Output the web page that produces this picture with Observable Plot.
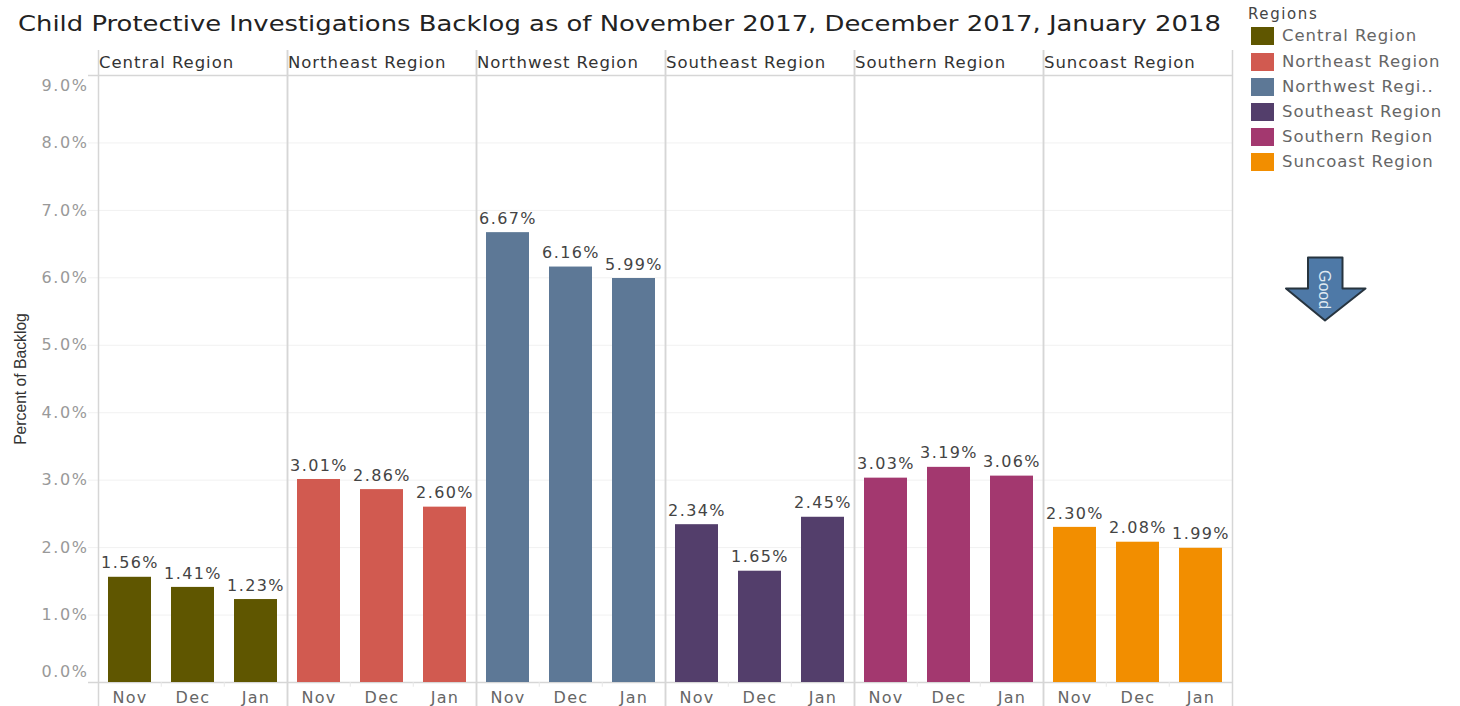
<!DOCTYPE html>
<html><head><meta charset="utf-8">
<script src="https://cdn.jsdelivr.net/npm/d3@7"></script>
<script src="https://cdn.jsdelivr.net/npm/@observablehq/plot@0.6"></script>
<style>
html,body{margin:0;padding:0;background:#fff;overflow:hidden}
body{width:1460px;height:706px;position:relative;font-family:"DejaVu Sans",sans-serif}
#title{position:absolute;left:18px;top:9px;font-size:21.4px;line-height:30px;color:#222;white-space:nowrap;font-weight:400;transform:scaleX(1.208);transform-origin:left center}
#chart{position:absolute;left:0;top:50px}
#legend{position:absolute;left:1248px;top:4px;font-size:16.5px;letter-spacing:.95px;color:#666}
#legend .h{color:#444;font-size:15px;letter-spacing:1.6px;height:20px;line-height:20px}
#legend .r{position:absolute;left:3px;white-space:nowrap;line-height:18px;height:18px}
#legend .s{display:inline-block;width:23px;height:18px;margin-right:8px;vertical-align:top}
#arrow{position:absolute;left:1280px;top:250px}
g[aria-label="fx-axis tick label"] text, g[aria-label="fx-axis tick label"]{letter-spacing:.95px}
g[aria-label="y-axis tick label"]{letter-spacing:1.6px}
g[aria-label="x-axis tick label"]{letter-spacing:1.3px}
g[aria-label="text"]{letter-spacing:1.4px}
</style></head><body>
<div id="title"></div><div id="chart"></div><div id="legend"></div><div id="arrow"></div>
<script>
const titleText = "Child Protective Investigations Backlog as of November 2017, December 2017, January 2018";
const regions = ["Central Region","Northeast Region","Northwest Region","Southeast Region","Southern Region","Suncoast Region"];
const legendLabels = ["Central Region","Northeast Region","Northwest Regi..","Southeast Region","Southern Region","Suncoast Region"];
const colors = ["#5f5600","#d15a50","#5d7896","#533e6b","#a3386f","#f28e00"];
const months = ["Nov","Dec","Jan"];
const central = [1.56,1.41,1.23];
const northeast = [3.01,2.86,2.60];
const northwest = [6.67,6.16,5.99];
const southeast = [2.34,1.65,2.45];
const southern = [3.03,3.19,3.06];
const suncoast = [2.30,2.08,1.99];
const series = [central,northeast,northwest,southeast,southern,suncoast];
const midTicks = [1,2,3,4,5,6,7,8];
const rows = regions.flatMap((r,i)=>months.map((m,j)=>({region:r,month:m,value:series[i][j]})));
const fmt = d=>d.toFixed(1)+"%";
const font = '"DejaVu Sans",sans-serif';
const lineC = "#d6d6d6", gridC = "#f1f1f1", tickC = "#999";

document.getElementById("title").textContent = titleText;

const plot = Plot.plot({
  width:1460, height:656,
  marginLeft:98, marginRight:228, marginTop:25, marginBottom:24,
  style:{fontFamily:font, background:"#fff"},
  fx:{domain:regions, padding:0, label:null},
  x:{domain:months, paddingInner:0.323, paddingOuter:0.15, label:null},
  y:{domain:[0,9], label:null},
  color:{domain:regions, range:colors},
  marks:[
    Plot.ruleY(midTicks,{stroke:gridC}),
    Plot.axisY({ticks:midTicks,tickSize:10,stroke:gridC,tickFormat:()=>"",label:null}),
    Plot.axisY({ticks:[0,9],tickSize:10,stroke:lineC,strokeWidth:1.5,tickFormat:()=>"",label:null}),
    Plot.ruleY([0,9],{stroke:lineC,strokeWidth:1.5}),
    Plot.barY(rows,{fx:"region",x:"month",y:"value",fill:"region"}),
    Plot.ruleX(months.slice(1),{x:d=>d,y1:0,y2:-0.07,dx:-31.75,stroke:"#e8e8e8"}),
    Plot.frame({anchor:"left",insetTop:-25,insetBottom:-24,stroke:lineC,strokeWidth:1.5}),
    Plot.frame({anchor:"right",insetTop:-25,insetBottom:-24,stroke:lineC,strokeWidth:1.5}),
    Plot.text(rows,{fx:"region",x:"month",y:"value",text:d=>d.value.toFixed(2)+"%",dy:-14,fontSize:16,fill:"#444"}),
    Plot.axisY({ticks:midTicks,tickSize:0,tickPadding:10,tickFormat:fmt,label:null,fontSize:16,fill:tickC}),
    Plot.axisY({ticks:[9],tickSize:0,tickPadding:10,tickFormat:fmt,label:null,fontSize:16,fill:tickC,dy:10}),
    Plot.axisY({ticks:[0],tickSize:0,tickPadding:10,tickFormat:fmt,label:null,fontSize:16,fill:tickC,dy:-11}),
    Plot.axisY({ticks:[],label:"Percent of Backlog",labelAnchor:"center",labelArrow:"none",labelOffset:84,fontSize:15.7,fontFamily:'"Liberation Sans Narrow",sans-serif',fill:"#333"}),
    Plot.axisX({tickSize:0,tickPadding:9,label:null,fontSize:16,fill:"#666"}),
    Plot.axisFx({anchor:"top",tickSize:0,tickPadding:8,label:null,fontSize:16.5,fill:"#333",textAnchor:"start",dx:-94})
  ]
});
document.getElementById("chart").append(plot);

const lg = document.getElementById("legend");
lg.innerHTML = '<div class="h">Regions</div>';
legendLabels.forEach((l,i)=>{
  const r = document.createElement("div");
  r.className="r"; r.style.top=(23.4+i*25.2)+"px";
  const s=document.createElement("span"); s.className="s"; s.style.background=colors[i];
  r.append(s, document.createTextNode(l)); lg.append(r);
});

document.getElementById("arrow").innerHTML =
 '<svg width="90" height="76" viewBox="0 0 90 76">'+
 '<polygon points="28,7.5 62.5,7.5 62.5,38.5 85.5,38.5 45,70.5 6,38.5 28,38.5" fill="#4e79a7" stroke="#27343f" stroke-width="2" stroke-linejoin="round"/>'+
 '<text transform="translate(44,39.5) rotate(90)" text-anchor="middle" dominant-baseline="central" fill="#dfe9f2" font-size="16" font-family="\'Liberation Sans Narrow\',sans-serif">Good</text></svg>';
</script>
</body></html>
